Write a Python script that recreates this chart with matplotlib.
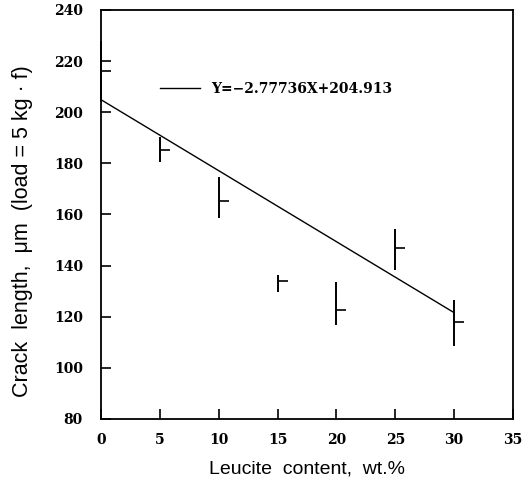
import matplotlib
matplotlib.use("Agg")
import matplotlib.pyplot as plt
import numpy as np
from matplotlib.path import Path

# data
leucite = [0, 5, 10, 15, 20, 25, 30]
crack = [216, 185.2, 165.4, 134.1, 122.6, 146.8, 117.8]
err_low = [12, 4.7, 6.8, 4.4, 5.8, 8.5, 9.1]
err_high = [12, 5.1, 9.3, 2.2, 11.1, 7.5, 8.8]
slope = -2.77736
intercept = 204.913
fit_x = [0, 30]
fit_label = "Y=\u22122.77736X+204.913"
xticks = [0, 5, 10, 15, 20, 25, 30, 35]
yticks = [80, 100, 120, 140, 160, 180, 200, 220, 240]

fig = plt.figure(figsize=(5.22, 4.84), dpi=100)
ax = fig.add_axes([101/522, 1-419/484, 412/522, 409/484])

ax.errorbar(leucite, crack, yerr=[err_low, err_high], fmt='none',
            ecolor='black', elinewidth=1.4, capsize=0, clip_on=False)
half_tick = Path([(0, 0), (1, 0)], [Path.MOVETO, Path.LINETO])
ax.plot(leucite, crack, linestyle='none', marker=half_tick, markersize=14,
        markeredgewidth=1.2, color='black', clip_on=False)

fx = np.array(fit_x, dtype=float)
ax.plot(fx, slope*fx + intercept, color='black', linewidth=1.0, label=fit_label)

ax.set_xlim(0, 35)
ax.set_ylim(80, 240)
ax.set_xticks(xticks)
ax.set_yticks(yticks)
serif = {'family': 'DejaVu Serif', 'size': 10, 'weight': 'bold'}
ax.set_xticklabels([str(v) for v in xticks], fontdict=serif)
ax.set_yticklabels([str(v) for v in yticks], fontdict=serif)
ax.tick_params(direction='in', length=7, width=1.2, top=False, right=False)
ax.tick_params(axis='x', pad=10)
ax.tick_params(axis='y', pad=13)
for s in ax.spines.values():
    s.set_linewidth(1.3)

ax.set_xlabel("Leucite  content,  wt.%", family='Liberation Sans', fontsize=14, labelpad=10)
ax.set_ylabel("Crack  length,  \u03bcm  (load = 5 kg \u00b7 f)", family='Liberation Sans',
              fontsize=15.5, labelpad=15, y=0.46)

leg = ax.legend(loc='upper left', bbox_to_anchor=(160/522, 1-82/484),
                bbox_transform=fig.transFigure, frameon=False, borderpad=0,
                borderaxespad=0, handlelength=2.9, handletextpad=0.8,
                prop={'family': 'DejaVu Serif', 'size': 10, 'weight': 'bold'})

fig.savefig("out.png", dpi=100)
